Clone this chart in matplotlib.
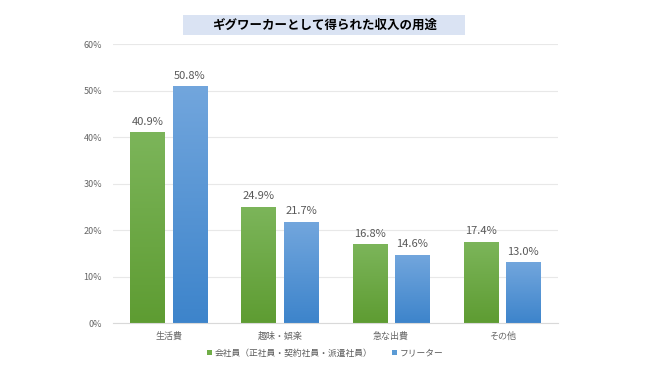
import numpy as np
import matplotlib.pyplot as plt
from matplotlib.colors import LinearSegmentedColormap
from matplotlib.patches import Patch, Rectangle

plt.rcParams['font.family'] = ['Noto Sans CJK JP', 'DejaVu Sans']

categories = ['生活費', '趣味・娯楽', '急な出費', 'その他']
employees = [40.9, 24.9, 16.8, 17.4]
freelancers = [50.8, 21.7, 14.6, 13.0]
series_names = ['会社員（正社員・契約社員・派遣社員）', 'フリーター']
title = 'ギグワーカーとして得られた収入の用途'

fig = plt.figure(figsize=(6.5, 3.65), dpi=100)
ax = fig.add_axes([0.174, 0.115, 0.684, 0.764])

green_cm = LinearSegmentedColormap.from_list('g', ['#5e9c32', '#7cb55a'])
blue_cm = LinearSegmentedColormap.from_list('b', ['#3d84cb', '#72a6dd'])

x = np.arange(len(categories))
w = 0.31
gap = 0.07
grad = np.linspace(0, 1, 256).reshape(-1, 1)

for vals, off, cm in [(employees, -(w + gap) / 2, green_cm),
                      (freelancers, (w + gap) / 2, blue_cm)]:
    bars = ax.bar(x + off, vals, w, color='none', edgecolor='none', zorder=2)
    for b, v in zip(bars, vals):
        x0 = b.get_x()
        ax.imshow(grad, extent=[x0, x0 + w, 0, v], origin='lower', cmap=cm,
                  aspect='auto', zorder=2)
        ax.text(x0 + w / 2, v + 1.3, f'{v:.1f}%', ha='center', va='bottom',
                fontsize=8, color='#595959')

ax.set_xlim(-0.5, len(categories) - 0.5)
ax.set_ylim(0, 60)
ax.set_yticks(range(0, 61, 10))
ax.set_yticklabels([f'{t}%' for t in range(0, 61, 10)])
ax.set_xticks(x)
ax.set_xticklabels(categories)
ax.tick_params(axis='both', length=0, labelsize=6.5, colors='#666666')
ax.tick_params(axis='y', pad=8)
ax.tick_params(axis='x', pad=6)
ax.grid(axis='y', color='#e8e8e8', linewidth=0.8, zorder=0)
ax.set_axisbelow(True)
for s in ax.spines.values():
    s.set_visible(False)
ax.spines['bottom'].set_visible(True)
ax.spines['bottom'].set_color('#d9d9d9')

fig.patches.append(Rectangle((0.2815, 0.904), 0.434, 0.055,
                             transform=fig.transFigure, facecolor='#dae3f3',
                             edgecolor='none', zorder=0))
fig.text(0.5, 0.9315, title, ha='center', va='center', fontsize=9,
         fontweight='bold', color='black')

handles = [Patch(facecolor='#70ad47'), Patch(facecolor='#5b9bd5')]
fig.legend(handles, series_names, loc='center', bbox_to_anchor=(0.5, 0.033),
           ncol=2, frameon=False, fontsize=6.3, labelcolor='#595959',
           handlelength=0.6, handleheight=0.6, handletextpad=0.3,
           columnspacing=2.2)

fig.savefig('out.png', dpi=100)
